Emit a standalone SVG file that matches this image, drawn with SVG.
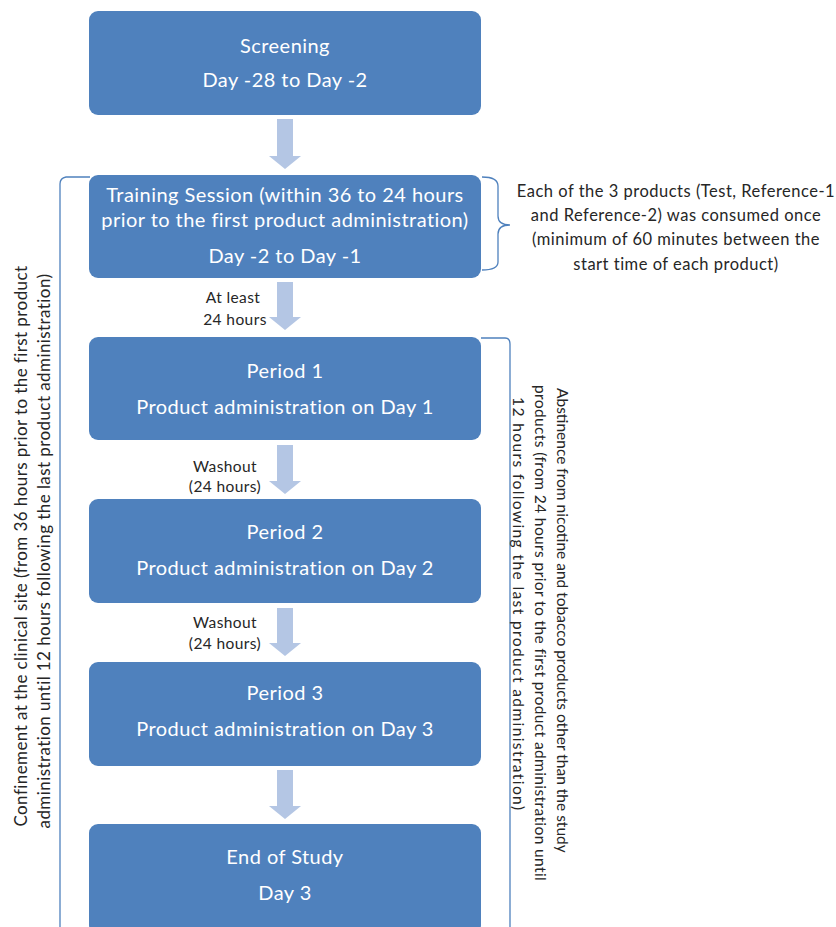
<svg xmlns="http://www.w3.org/2000/svg" width="836" height="927" viewBox="0 0 836 927">
<defs>
<style>
.box{fill:#4f81bd;}
.bt{fill:#ffffff;font-family:Lato,"Open Sans",sans-serif;font-size:20px;letter-spacing:0.45px;text-anchor:middle;}
.lbl{fill:#262626;font-family:Lato,"Open Sans",sans-serif;font-size:15.5px;letter-spacing:0.4px;text-anchor:middle;}
.note{fill:#262626;font-family:Lato,"Open Sans",sans-serif;font-size:16.5px;letter-spacing:0.5px;text-anchor:middle;}
.side{fill:#262626;font-family:Lato,"Open Sans",sans-serif;font-size:17px;letter-spacing:0.42px;text-anchor:middle;}
.abs{fill:#262626;font-family:Lato,"Open Sans",sans-serif;font-size:15.5px;text-anchor:start;}
.arr{fill:#b4c6e4;}
.brk{fill:none;stroke:#4f81bd;stroke-width:1.3;}
</style>
</defs>
<rect width="836" height="927" fill="#ffffff"/>

<g id="screening">
<rect class="box" x="89" y="11" width="392" height="104" rx="9"/>
<text class="bt" x="285" y="53">Screening</text>
<text class="bt" x="285" y="87">Day -28 to Day -2</text>
</g>

<g id="training">
<rect class="box" x="89" y="175" width="392" height="103" rx="9"/>
<text class="bt" x="285" y="202">Training Session (within 36 to 24 hours</text>
<text class="bt" x="285" y="227">prior to the first product administration)</text>
<text class="bt" x="285" y="263">Day -2 to Day -1</text>
</g>

<g id="period1">
<rect class="box" x="89" y="337" width="392" height="103" rx="9"/>
<text class="bt" x="285" y="378">Period 1</text>
<text class="bt" x="285" y="414">Product administration  on Day 1</text>
</g>

<g id="period2">
<rect class="box" x="89" y="499" width="392" height="104" rx="9"/>
<text class="bt" x="285" y="539">Period 2</text>
<text class="bt" x="285" y="575">Product administration  on Day 2</text>
</g>

<g id="period3">
<rect class="box" x="89" y="662" width="392" height="104" rx="9"/>
<text class="bt" x="285" y="700">Period 3</text>
<text class="bt" x="285" y="736">Product administration  on Day 3</text>
</g>

<g id="end">
<rect class="box" x="89" y="824" width="392" height="110" rx="9"/>
<text class="bt" x="285" y="864">End of Study</text>
<text class="bt" x="285" y="900">Day 3</text>
</g>

<g id="connectors">
<polygon class="arr" points="277,119 293,119 293,156 301,156 285,169 269,156 277,156"/>
<polygon class="arr" points="277,282 293,282 293,317 301,317 285,330 269,317 277,317"/>
<polygon class="arr" points="277,445 293,445 293,481 301,481 285,494 269,481 277,481"/>
<polygon class="arr" points="277,608 293,608 293,643 301,643 285,656 269,643 277,643"/>
<polygon class="arr" points="277,770 293,770 293,806 301,806 285,819 269,806 277,806"/>
<text class="lbl" x="233" y="303">At least</text>
<text class="lbl" x="235" y="325">24 hours</text>
<text class="lbl" x="225" y="472">Washout</text>
<text class="lbl" x="225" y="492">(24 hours)</text>
<text class="lbl" x="225" y="628">Washout</text>
<text class="lbl" x="225" y="649">(24 hours)</text>
</g>

<g id="confinement">
<path class="brk" d="M90,177 L66,177 Q60,178 60,184 L60,927"/>
<text class="side" transform="translate(27,546) rotate(-90)">Confinement  at the clinical site (from 36 hours  prior to the first product</text>
<text class="side" transform="translate(50,551) rotate(-90)">administration  until  12 hours  following  the last product administration)</text>
</g>

<g id="training-note">
<path class="brk" d="M482,177 Q498,177 498,186 L498,216 Q498,225 510,225 Q498,225 498,234 L498,262 Q498,270 482,270"/>
<text class="note" x="676" y="197">Each of the 3 products  (Test, Reference-1</text>
<text class="note" x="676" y="221">and Reference-2)  was consumed  once</text>
<text class="note" x="676" y="245">(minimum  of 60 minutes between   the</text>
<text class="note" x="676" y="270">start time of each product)</text>
</g>

<g id="abstinence">
<path class="brk" d="M481,338 L505,338 Q510,338 510,344 L510,927"/>
<text class="abs" transform="translate(557,388) rotate(90)">Abstinence from nicotine and tobacco products other than the study</text>
<text class="abs" letter-spacing="0.39" transform="translate(535,385) rotate(90)">products (from 24 hours prior to the first product administration until</text>
<text class="abs" letter-spacing="1.4" transform="translate(513,397) rotate(90)">12 hours following the last product administration)</text>
</g>
</svg>
